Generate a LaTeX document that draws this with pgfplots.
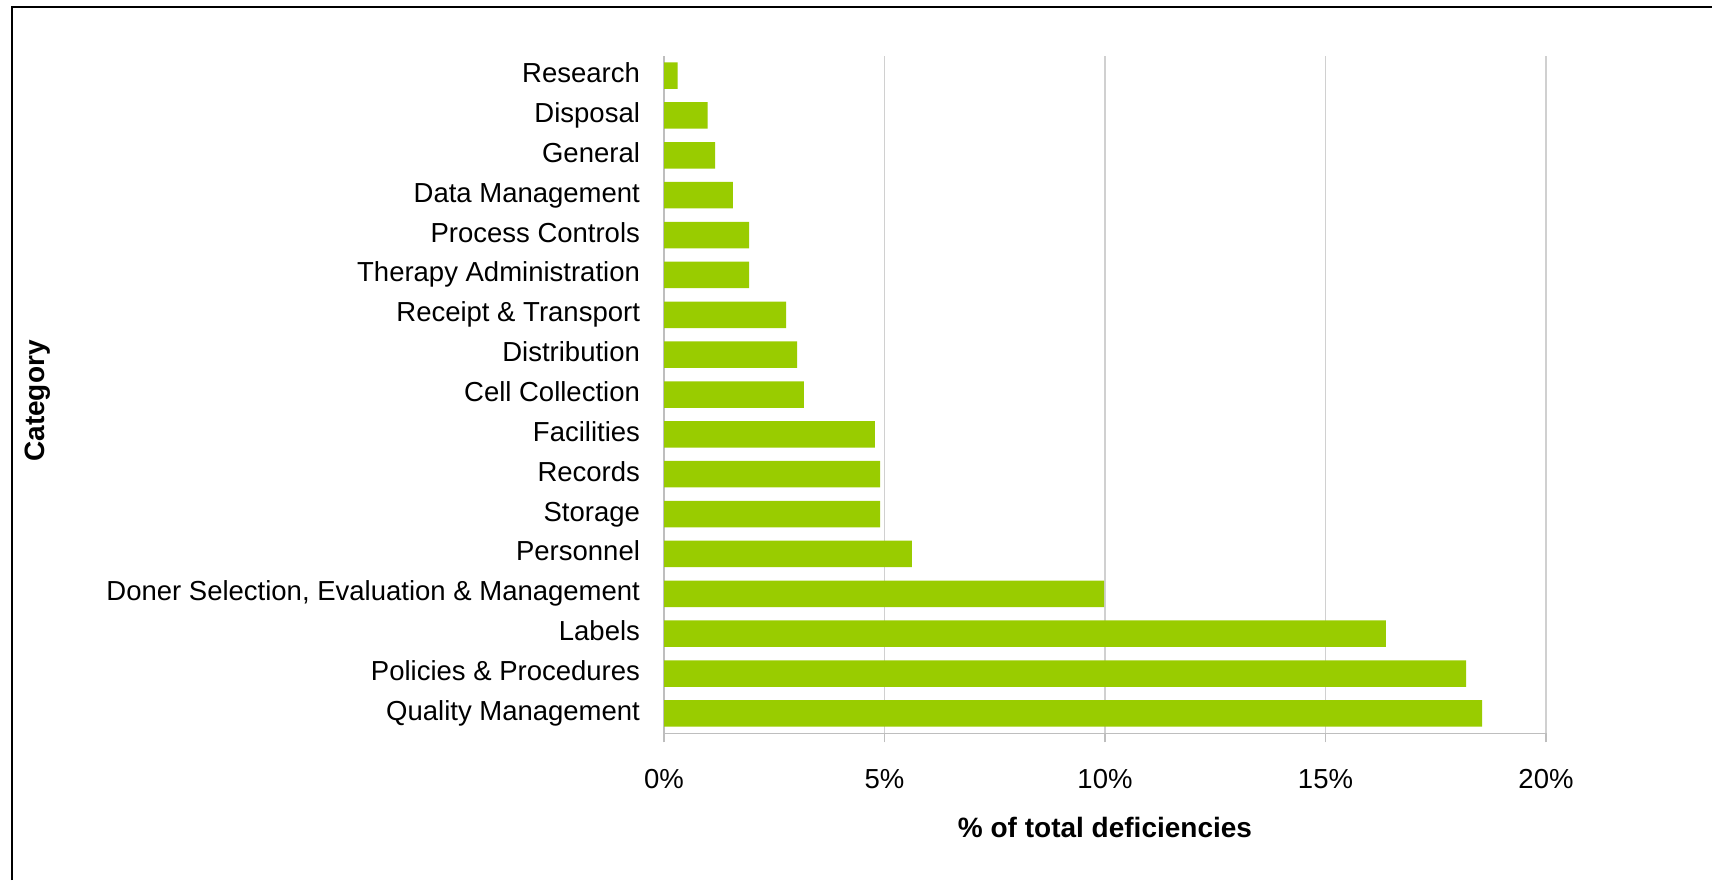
\documentclass[border=0pt]{standalone}
\usepackage{fontspec}
\setmainfont{Liberation Sans}
\usepackage{pgfplots}
\pgfplotsset{compat=1.18}
\definecolor{bargreen}{HTML}{99CC00}
\definecolor{gridgray}{HTML}{D0D0D0}
\definecolor{axgray}{HTML}{BEBEBE}
\begin{document}
\begin{tikzpicture}
\useasboundingbox (0,0) rectangle (856pt,440pt);
\fill[white] (0,0) rectangle (856pt,440pt);
\draw[line width=1pt, black] (5.85pt,0) -- (5.85pt,436.35pt) -- (856pt,436.35pt);
\begin{axis}[
  at={(332pt,73.35pt)}, anchor=south west,
  scale only axis, width=441pt, height=338.8pt,
  xbar, bar width=13.25pt, bar shift=0pt,
  xmin=0, xmax=20, ymin=-0.5, ymax=16.5,
  axis x line*=bottom, axis y line*=left,
  axis line style={axgray, line width=0.8pt, -},
  xtick={0,5,10,15,20},
  xticklabels={0\%,5\%,10\%,15\%,20\%},
  xmajorgrids, major grid style={gridgray, line width=0.7pt},
  x tick style={axgray, line width=0.8pt},
  xtick align=outside, major tick length=4.5pt,
  ytick={0,...,16},
  yticklabels={Quality Management,Policies \& Procedures,Labels,Doner Selection{,} Evaluation \& Management,Personnel,Storage,Records,Facilities,Cell Collection,Distribution,Receipt \& Transport,Therapy Administration,Process Controls,Data Management,General,Disposal,Research},
  y tick style={draw=none},
  minor ytick={-0.5,0.5,...,16.5},
  minor y tick style={axgray, line width=0.8pt},
  minor tick length=4.3pt,
  ytick align=outside,
  tick label style={font=\fontsize{13.75}{16}\selectfont},
  yticklabel style={anchor=east, xshift=-4pt, text height=10pt, text depth=3pt},
  xticklabel style={yshift=-10pt},
  xlabel={\% of total deficiencies},
  xlabel style={font=\fontsize{14}{16}\selectfont\bfseries, at={(axis description cs:0.5,0)}, anchor=center, yshift=-47pt},
  clip=false,
]
\addplot[fill=bargreen, draw=none] coordinates {
(18.55,0) (18.19,1) (16.37,2) (9.98,3) (5.62,4) (4.90,5) (4.90,6) (4.78,7) (3.17,8) (3.02,9) (2.77,10) (1.93,11) (1.93,12) (1.56,13) (1.16,14) (0.99,15) (0.31,16)
};
\end{axis}
\node[rotate=90, anchor=center, font=\fontsize{14}{16}\selectfont\bfseries] at (19pt,239.5pt) {Category};
\end{tikzpicture}
\end{document}
